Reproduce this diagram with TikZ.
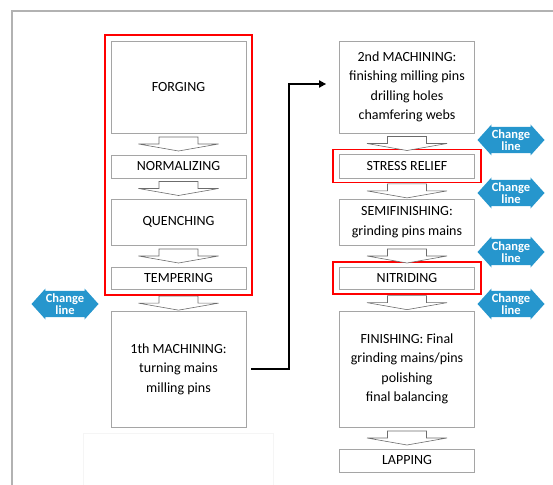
\documentclass[tikz,border=0pt]{standalone}
\usepackage{fontspec}
\setmainfont{Carlito}
\usetikzlibrary{shapes.arrows,fit,calc,arrows.meta}
\definecolor{clblue}{RGB}{38,150,205}
\definecolor{boxgray}{RGB}{165,165,165}
\tikzset{
  stepbox/.style={draw=boxgray, line width=0.8bp, minimum width=135bp, inner sep=0pt,
    align=center, font=\fontsize{14bp}{19.5bp}\selectfont},
  redbox/.style={draw=red, line width=1.6bp},
  blockarrow/.style={draw=gray!85!black, fill=white, line width=0.6bp},
  changeline/.style={shape=double arrow, fill=clblue, text=white, inner sep=0pt,
    minimum height=67bp, minimum width=31bp, double arrow head extend=2bp,
    double arrow tip angle=96, align=center, font=\bfseries\fontsize{12.5bp}{10bp}\selectfont},
  flowline/.style={line width=1.8bp, -{Triangle[length=7bp,width=7bp]}}
}
\begin{document}
\begin{tikzpicture}[x=1bp,y=-1bp]
    \useasboundingbox (0,0) rectangle (553,485);
    \draw [gray!60, line width=1.2bp] (12,485) -- (12,11) -- (553,11);
    \draw [gray!8] (83,433) rectangle (273,490);

    \node [stepbox, minimum height=92bp] (forging) at (178.5,87) {FORGING};
    \node [stepbox, minimum height=23bp] (normalizing) at (178.5,166.5) {NORMALIZING};
    \node [stepbox, minimum height=46bp] (quenching) at (178.5,222) {QUENCHING};
    \node [stepbox, minimum height=22bp] (tempering) at (178.5,278) {TEMPERING};
    \node [stepbox, minimum height=116bp] (mach1) at (178.5,369) {1th MACHINING:\\turning mains\\milling pins};

    \node [stepbox, minimum height=92bp] (mach2) at (407,87) {2nd MACHINING:\\finishing milling pins\\drilling holes\\chamfering webs};
    \node [stepbox, minimum height=24bp] (stress) at (407,166) {STRESS RELIEF};
    \node [stepbox, minimum height=46bp] (semi) at (407,222) {SEMIFINISHING:\\grinding pins mains};
    \node [stepbox, minimum height=22bp] (nitriding) at (407,278) {NITRIDING};
    \node [stepbox, minimum height=116bp] (finishing) at (407,369) {FINISHING: Final\\grinding mains/pins\\polishing\\final balancing};
    \node [stepbox, minimum height=23bp] (lapping) at (407,460.5) {LAPPING};

    \node [redbox, fit=(forging)(tempering), inner sep=5.5bp] (heat) {};
    \node [redbox, fit=(stress), inner xsep=6bp, inner ysep=4bp] (stressred) {};
    \node [redbox, fit=(nitriding), inner xsep=6bp, inner ysep=4.5bp] (nitred) {};

    \foreach \a/\b in {forging/normalizing, normalizing/quenching, quenching/tempering, heat/mach1,
        mach2/stress, stressred/semi, semi/nitriding, nitred/finishing, finishing/lapping}
      \draw [blockarrow] ($(\a.south)!0.5!(\b.north)$) ++(-19.5,-7) -- ++(39,0) -- ++(0,7)
        -- ++(20.5,0) -- ++(-40,7) -- ++(-40,-7) -- ++(20.5,0) -- cycle;

    \draw [flowline, shorten <=5bp, shorten >=13bp] (mach1.east) -| ($(mach2.west)+(-50,-3)$) -- ($(mach2.west)+(0,-3)$);

    \node [changeline] (cl1) at (65,304) {Change\\line};
    \node [changeline] (cl2) at (511,140) {Change\\line};
    \node [changeline] (cl3) at (511,193) {Change\\line};
    \node [changeline] (cl4) at (511,252) {Change\\line};
    \node [changeline] (cl5) at (511,304) {Change\\line};
\end{tikzpicture}
\end{document}
